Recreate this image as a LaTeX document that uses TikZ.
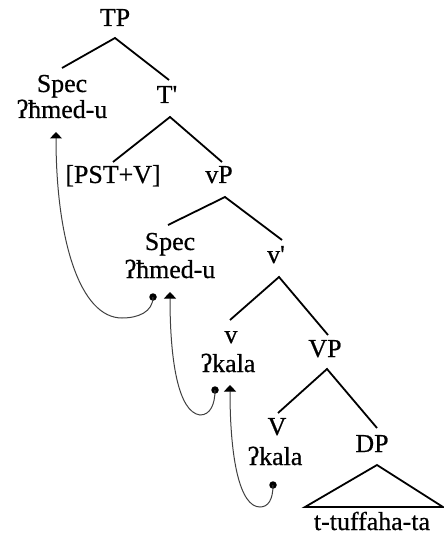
\documentclass[tikz,border=0pt]{standalone}
\usepackage{fontspec}
\setmainfont{Liberation Serif}
\newfontfamily\treefont{Liberation Serif}[FakeBold=0.6]
\usetikzlibrary{arrows.meta}
\begin{document}
\begin{tikzpicture}[x=1bp,y=-1bp,
  lbl/.style={anchor=base,inner sep=0pt,font=\treefont\fontsize{26}{30}\selectfont},
  edge/.style={line width=1.8bp,black},
  move/.style={line width=1bp,black!75,-{Triangle[width=12bp,length=6.5bp,color=black]}},
  dotnode/.style={circle,fill=black,inner sep=0pt,minimum size=7.5bp}]
\useasboundingbox (0,0) rectangle (444,536);
% labels
\node[lbl] (TP) at (115,26) {TP};
\node[lbl] (Spec1) at (62,92) {Spec};
\node[lbl] (Ahmed1) at (62,118) {ʔħmed-u};
\node[lbl] (Tbar) at (167,103) {T\textquotesingle};
\node[lbl] (PST) at (113,183) {[PST+V]};
\node[lbl] (vP) at (219,183) {vP};
\node[lbl] (Spec2) at (170,250) {Spec};
\node[lbl] (Ahmed2) at (170,278) {ʔħmed-u};
\node[lbl] (vbar) at (276,263) {v\textquotesingle};
\node[lbl] (v) at (231,343) {v};
\node[lbl] (kala1) at (228,372) {ʔkala};
\node[lbl] (VP) at (325,357) {VP};
\node[lbl] (V) at (277,435) {V};
\node[lbl] (kala2) at (275,465) {ʔkala};
\node[lbl] (DP) at (372,452) {DP};
\node[lbl] (tuff) at (372,530) {t-tuffaha-ta};
% edge endpoints
\coordinate (TPa) at (115,38);
\coordinate (TPl) at (62,68);
\coordinate (TPr) at (169,80);
\coordinate (Ta) at (170,117);
\coordinate (Tl) at (113,162);
\coordinate (Tr) at (222,162);
\coordinate (vPa) at (225,197);
\coordinate (vPl) at (168,225);
\coordinate (vPr) at (282,240);
\coordinate (vba) at (279,277);
\coordinate (vbl) at (230,320);
\coordinate (vbr) at (328,335);
\coordinate (VPa) at (327,369);
\coordinate (VPl) at (278,413);
\coordinate (VPr) at (377,428);
\coordinate (DPa) at (377,465);
\coordinate (DPl) at (305,507);
\coordinate (DPr) at (443,507);
\draw[edge] (TPl) -- (TPa) -- (TPr);
\draw[edge] (Tl) -- (Ta) -- (Tr);
\draw[edge] (vPl) -- (vPa) -- (vPr);
\draw[edge] (vbl) -- (vba) -- (vbr);
\draw[edge] (VPl) -- (VPa) -- (VPr);
\draw[edge,line join=miter] (DPl) -- (DPa) -- (DPr) -- cycle;
% movement
\node[dotnode] (d1) at (153,297) {};
\node[dotnode] (d2) at (215,390) {};
\node[dotnode] (d3) at (273,485) {};
\coordinate (t1) at (56,132);
\coordinate (t2) at (170,292);
\coordinate (t3) at (230,385);
\draw[move] (d1.center) .. controls (153,312) and (138,318) .. (122,318)
  .. controls (80,318) and (56,240) .. (t1);
\draw[move] (d2.center) .. controls (215,405) and (210,415) .. (200,415)
  .. controls (178,412) and (170,360) .. (t2);
\draw[move] (d3.center) .. controls (273,500) and (268,507) .. (260,507)
  .. controls (240,507) and (230,460) .. (t3);
\end{tikzpicture}
\end{document}
